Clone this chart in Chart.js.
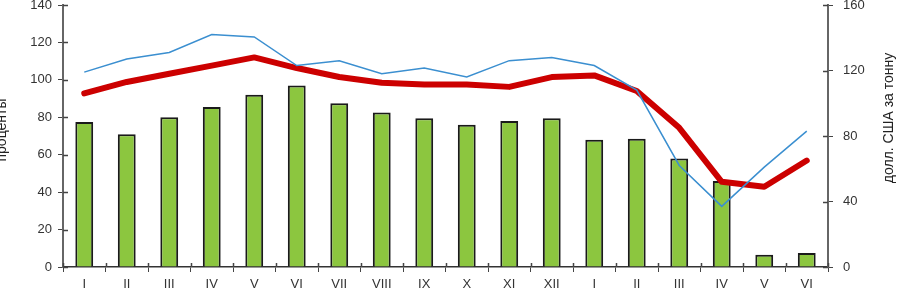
<!DOCTYPE html>
<html>
<head>
<meta charset="utf-8">
<script src="https://cdn.jsdelivr.net/npm/chart.js@4"></script>
<style>
  html, body { margin: 0; padding: 0; background: #fff; overflow: hidden; }
  #wrap { width: 900px; height: 289px; position: relative; }
</style>
</head>
<body>
<div id="wrap"><canvas id="priceChart"></canvas></div>
<script>
// months, two years
const months = ['I', 'II', 'III', 'IV', 'V', 'VI', 'VII', 'VIII', 'IX', 'X', 'XI', 'XII',
  'I', 'II', 'III', 'IV', 'V', 'VI'];

// bars, left axis (проценты)
const barValues = [77.5, 71, 80, 85.5, 92, 97, 87.5, 82.5, 79.5, 76, 78, 79.5,
  68, 68.5, 58, 46, 6.5, 7.5];

// thick red line, right axis
const redValues = [106, 113, 118, 123, 128, 121.5, 116, 112.5, 111.5, 111.5, 110, 116,
  117, 107.5, 85, 52, 49, 65];

// thin blue line, right axis
const blueValues = [119, 127, 131, 142, 140.5, 123, 126, 118, 121.5, 116, 126, 128,
  123, 108, 62, 37, 61, 83];

const leftTicks = [0, 20, 40, 60, 80, 100, 120, 140];
const rightTicks = [0, 40, 80, 120, 160];

const FONT = "'Liberation Sans', Arial, sans-serif";

// axis titles (right one reads bottom to top) + short inner tick marks
const axisExtras = {
  id: 'axisExtras',
  afterDraw(chart) {
    const ctx = chart.ctx;
    const { y, y2, x } = chart.scales;

    ctx.save();
    ctx.strokeStyle = '#444';
    ctx.lineWidth = 1.5;
    ctx.beginPath();
    leftTicks.forEach(v => {
      const py = Math.round(y.getPixelForValue(v)) + 0.5;
      ctx.moveTo(y.right, py);
      ctx.lineTo(y.right + 5, py);
    });
    rightTicks.forEach(v => {
      const py = Math.round(y2.getPixelForValue(v)) + 0.5;
      ctx.moveTo(y2.left - 5, py);
      ctx.lineTo(y2.left, py);
    });
    for (let i = 0; i <= months.length; i++) {
      const px = Math.round(x.getPixelForTick(0) + (i - 0.5) * (x.getPixelForTick(1) - x.getPixelForTick(0))) + 0.5;
      ctx.moveTo(px, x.top - 4);
      ctx.lineTo(px, x.top);
    }
    ctx.stroke();
    ctx.restore();

    ctx.save();
    ctx.font = '14px ' + FONT;
    ctx.fillStyle = '#222';
    ctx.textAlign = 'center';
    ctx.textBaseline = 'alphabetic';
    ctx.translate(6, 130);
    ctx.rotate(-Math.PI / 2);
    ctx.fillText('проценты', 0, 0);
    ctx.restore();

    ctx.save();
    ctx.font = '14px ' + FONT;
    ctx.fillStyle = '#222';
    ctx.textAlign = 'center';
    ctx.textBaseline = 'alphabetic';
    ctx.translate(893, 118);
    ctx.rotate(-Math.PI / 2);
    ctx.fillText('долл. США за тонну', 0, 0);
    ctx.restore();
  }
};

new Chart(document.getElementById('priceChart'), {
  type: 'bar',
  data: {
    labels: months,
    datasets: [{
      type: 'line',
      data: blueValues,
      yAxisID: 'y2',
      borderColor: '#3b8fd0',
      borderWidth: 1.5,
      pointRadius: 0,
      tension: 0,
      order: 1
    }, {
      type: 'line',
      data: redValues,
      yAxisID: 'y2',
      borderColor: '#cc0000',
      borderWidth: 6,
      pointRadius: 0,
      tension: 0,
      borderJoinStyle: 'round',
      borderCapStyle: 'round',
      order: 2
    }, {
      type: 'bar',
      data: barValues,
      yAxisID: 'y',
      backgroundColor: '#8cc63f',
      borderColor: '#1a1a1a',
      borderWidth: 2,
      categoryPercentage: 0.84,
      barPercentage: 0.5,
      order: 3
    }]
  },
  options: {
    responsive: true,
    maintainAspectRatio: false,
    animation: false,
    layout: { autoPadding: false, padding: { top: 5, left: 0, right: 0, bottom: 0 } },
    plugins: {
      legend: { display: false },
      tooltip: { enabled: false }
    },
    scales: {
      x: {
        offset: true,
        grid: { drawOnChartArea: false, offset: true, color: '#444', tickLength: 5 },
        border: { color: '#333', width: 1.5 },
        ticks: { color: '#333', font: { family: FONT, size: 13 }, padding: 5, maxRotation: 0, autoSkip: false },
        afterFit(scale) { scale.height = 22; scale.paddingLeft = 0; scale.paddingRight = 0; }
      },
      y: {
        position: 'left',
        min: 0,
        max: 140,
        afterBuildTicks(scale) { scale.ticks = leftTicks.map(v => ({ value: v })); },
        grid: { drawOnChartArea: false, color: '#444', tickLength: 5 },
        border: { color: '#666', width: 2 },
        ticks: { color: '#333', font: { family: FONT, size: 13 }, padding: 6 },
        afterFit(scale) { scale.width = 63; scale.paddingTop = 0; scale.paddingBottom = 0; }
      },
      y2: {
        position: 'right',
        min: 0,
        max: 160,
        afterBuildTicks(scale) { scale.ticks = rightTicks.map(v => ({ value: v })); },
        grid: { drawOnChartArea: false, color: '#444', tickLength: 5 },
        border: { color: '#666', width: 2 },
        ticks: { color: '#333', font: { family: FONT, size: 13 }, padding: 10 },
        afterFit(scale) { scale.width = 72; scale.paddingTop = 0; scale.paddingBottom = 0; }
      }
    }
  },
  plugins: [axisExtras]
});
</script>
</body>
</html>
